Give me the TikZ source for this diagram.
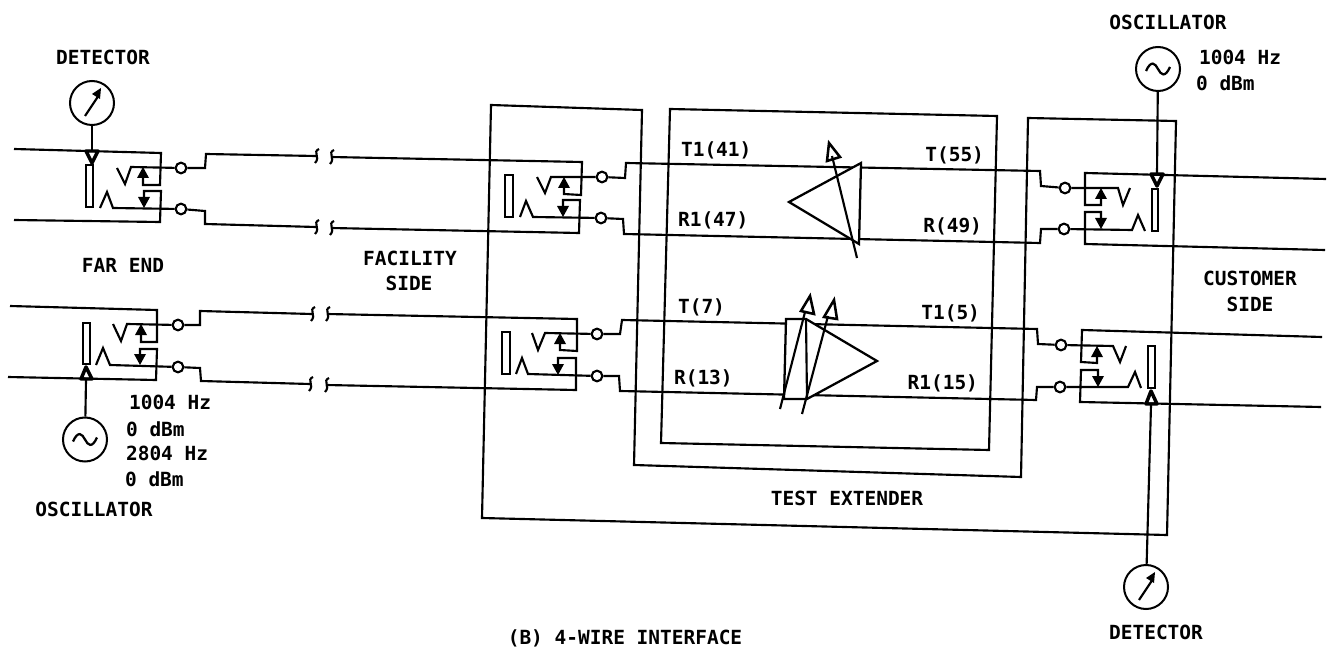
\documentclass[tikz,border=0pt]{standalone}
\usepackage{fontspec}
\setmainfont{DejaVu Sans Mono}
\newcommand\tup[2]{\fill (#1,#2) -- ++(-6,11) -- ++(12,0) -- cycle;}
\newcommand\tdn[2]{\fill (#1,#2) -- ++(-6,-11) -- ++(12,0) -- cycle;}
\newcommand\brk[2]{\draw ({#1+3},{#2-7}) .. controls ({#1-4},{#2-4}) and ({#1+5},{#2+1}) .. ({#1-1},{#2+7});}
\newcommand\sinewave[2]{\draw[line width=1.7pt] ({#1-12},{#2+2}) .. controls ({#1-7},{#2-9}) and ({#1-3},{#2-6}) .. (#1,#2) .. controls ({#1+3},{#2+6}) and ({#1+7},{#2+9}) .. ({#1+12},{#2-2});}
\newcommand\needle[2]{\draw[line width=1.6pt] (#1,#2) ++(-7,13) -- ++(14,-21); \fill (#1,#2) ++(9,-15) -- ++(-9,6) -- ++(8,5) -- cycle;}
\tikzset{
  x=0.75pt, y=-0.75pt,
  every path/.style={line width=1.6pt, line join=miter},
  term/.style={circle, draw, fill=white, inner sep=0pt, minimum size=8pt, line width=1.6pt},
  instr/.style={circle, draw, fill=white, inner sep=0pt, minimum size=33pt, line width=1.5pt},
  lbl/.style={inner sep=0pt, font=\fontsize{14.6}{15}\selectfont\bfseries, text=black},
  lleft/.style={lbl, anchor=west},
  xfmr/.style={draw, line width=1.5pt},
  amp/.style={draw, fill=white, line width=1.7pt, line join=miter},
  hollow/.style={draw, line width=1.9pt, line join=miter},
  heavy/.style={draw, line width=2.6pt, line join=round}
}
\begin{document}
\begin{tikzpicture}
\useasboundingbox (0,0) rectangle (1333,648);
\fill[white] (0,0) rectangle (1333,648);

% frames
\draw (491,105) -- (642,110) -- (634,465) -- (1021,477) -- (1028,118) -- (1176,121) -- (1167,535) -- (482,518) -- cycle;
\draw (670,109) -- (997,116) -- (989,450) -- (661,443) -- cycle;

% terminals
\node[term] (a1) at (181,168) {};
\node[term] (a2) at (181,209) {};
\node[term] (b1) at (178,325) {};
\node[term] (b2) at (178,367) {};
\node[term] (c1) at (602,177) {};
\node[term] (c2) at (601,218) {};
\node[term] (d1) at (597,334) {};
\node[term] (d2) at (597,376) {};
\node[term] (e1) at (1065,188) {};
\node[term] (e2) at (1064,229) {};
\node[term] (f1) at (1061,345) {};
\node[term] (f2) at (1060,387) {};

% instruments
\node[instr] (det1) at (92,103) {};
\node[instr] (osc1) at (85,439.5) {};
\node[instr] (osc2) at (1158,69) {};
\node[instr] (det2) at (1146,587) {};
\needle{92}{103}
\needle{1146}{587}
\sinewave{85}{439.5}
\sinewave{1158}{69}

% hybrid 1, far end top
\draw (14,149) -- (161,153) -- (160,185) -- (143,185) -- (143,170);
\draw (117,168) -- (125,184) -- (131,167) -- (a1);
\draw (14,220) -- (160,222) -- (161,191) -- (144,191) -- (144,205);
\draw (100,208) -- (107,192) -- (113,208) -- (a2);
\tup{143}{167}
\tdn{144}{208}
\draw[xfmr] (86,165) rectangle (93,207);
\draw[heavy] (86,151) -- (98,151) -- (92,163) -- cycle;
\draw (det1) -- (92,151);
\draw (a1) -- (205,168) -- (206,154) -- (316,156);
\draw (a2) -- (205,211) -- (205,224) -- (316,227);
\brk{316}{156} \brk{331}{157} \brk{316}{227} \brk{331}{228}

% hybrid 2, far end bottom
\draw (10,306) -- (157,310) -- (157,342) -- (141,342) -- (141,327);
\draw (113,324) -- (121,341) -- (127,324) -- (b1);
\draw (8,377) -- (156,380) -- (157,349) -- (140,349) -- (140,362);
\draw (96,365) -- (103,348) -- (110,365) -- (b2);
\tup{141}{324}
\tdn{140}{365}
\draw[xfmr] (83,323) rectangle (90,364);
\draw[heavy] (81,379) -- (92,379) -- (86,367) -- cycle;
\draw (osc1) -- (86,380);
\draw (b1) -- (200,325) -- (200,311) -- (312,314);
\draw (b2) -- (200,368) -- (201,381) -- (310,384);
\brk{312}{314} \brk{327}{314} \brk{310}{384} \brk{326}{385}

% hybrid 3
\draw (331,157) -- (582,162) -- (581,195) -- (564,194) -- (564,180);
\draw (537,177) -- (545,193) -- (551,177) -- (c1);
\draw (331,228) -- (579,233) -- (580,200) -- (563,200) -- (563,214);
\draw (520,217) -- (526,201) -- (533,217) -- (c2);
\tup{564}{177}
\tdn{563}{217}
\draw[xfmr] (505,175) rectangle (513,217);

% hybrid 4
\draw (327,314) -- (577,319) -- (577,351) -- (560,350) -- (560,336);
\draw (532,333) -- (538,350) -- (545,333) -- (d1);
\draw (326,385) -- (576,390) -- (576,358) -- (558,358) -- (558,372);
\draw (516,374) -- (522,358) -- (528,374) -- (d2);
\tup{560}{333}
\tdn{558}{375}
\draw[xfmr] (502,332) rectangle (510,374);

% hybrid 5
\draw (1326,179) -- (1085,173) -- (1085,205) -- (1101,205) -- (1101,191);
\draw (1130,188) -- (1123,205) -- (1118,188) -- (e1);
\draw (1325,250) -- (1085,244) -- (1085,212) -- (1101,212) -- (1101,226);
\draw (1145,231) -- (1138,215) -- (1132,230) -- (e2);
\tup{1101}{188}
\tdn{1101}{229}
\draw[xfmr] (1152,189) rectangle (1158,231);
\draw[heavy] (1151,174) -- (1163,174) -- (1157,186) -- cycle;
\draw (osc2) -- (1157,173);

% hybrid 6
\draw (1322,337) -- (1082,330) -- (1081,362) -- (1097,363) -- (1097,349);
\draw (1126,346) -- (1120,362) -- (1113,346) -- (f1);
\draw (1321,407) -- (1080,402) -- (1081,370) -- (1098,370) -- (1098,384);
\draw (1141,388) -- (1135,372) -- (1128,387) -- (f2);
\tup{1097}{346}
\tdn{1098}{387}
\draw[xfmr] (1148,346) rectangle (1155,388);
\draw[heavy] (1146,404) -- (1157,404) -- (1151,391) -- cycle;
\draw (det2) -- (1151,405);

% through pairs
\draw (c1) -- (625,178) -- (626,163) -- (1040,171) -- (1041,186) -- (e1);
\draw (c2) -- (623,219) -- (624,234) -- (1040,243) -- (1041,229) -- (e2);
\draw (d1) -- (620,334) -- (622,320) -- (1037,329) -- (1038,344) -- (f1);
\draw (d2) -- (619,376) -- (620,391) -- (1036,400) -- (1037,387) -- (f2);

% amplifiers
\draw[amp] (789,202) -- (861,163) -- (859,244) -- cycle;
\draw (857,258) -- (832,156);
\draw[hollow] (829,143) -- (827,161) -- (840,157) -- cycle;

\draw[amp] (786,319) -- (806,319) -- (877,361) -- (807,399) -- (784,399) -- cycle;
\draw (806,319) -- (807,399);
\draw (780,409) -- (805,312);
\draw[hollow] (810,296) -- (801,311) -- (814,314) -- cycle;
\draw (802,414) -- (828,316);
\draw[hollow] (834,300) -- (824,317) -- (837,319) -- cycle;

% labels
\node[lbl] (t1) at (103,57) {DETECTOR};
\node[lbl] (t2) at (123,265) {FAR END};
\node[lbl] (t3) at (410,258) {FACILITY};
\node[lbl] (t4) at (409,283) {SIDE};
\node[lleft] (t5) at (128,402) {1004 Hz};
\node[lleft] (t6) at (125,429) {0 dBm};
\node[lleft] (t7) at (125,453) {2804 Hz};
\node[lleft] (t8) at (124,479) {0 dBm};
\node[lbl] (t9) at (94,509) {OSCILLATOR};
\node[lbl] (t10) at (1168,22) {OSCILLATOR};
\node[lleft] (t11) at (1198,57) {1004 Hz};
\node[lleft] (t12) at (1195,83) {0 dBm};
\node[lbl] (t13) at (1250,278) {CUSTOMER};
\node[lbl] (t14) at (1250,304) {SIDE};
\node[lbl] (t15) at (1156,632) {DETECTOR};
\node[lbl] (t16) at (847,498) {TEST EXTENDER};
\node[lbl] (t17) at (625,638) {(B) 4-WIRE INTERFACE};
\node[lleft] (t18) at (680,150) {T1(41)};
\node[lleft] (t19) at (677,220) {R1(47)};
\node[lleft] (t20) at (677,307) {T(7)};
\node[lleft] (t21) at (673,378) {R(13)};
\node[lbl,anchor=east] (t22) at (985,155) {T(55)};
\node[lbl,anchor=east] (t23) at (983,226) {R(49)};
\node[lbl,anchor=east] (t24) at (981,313) {T1(5)};
\node[lbl,anchor=east] (t25) at (979,383) {R1(15)};
\end{tikzpicture}
\end{document}
